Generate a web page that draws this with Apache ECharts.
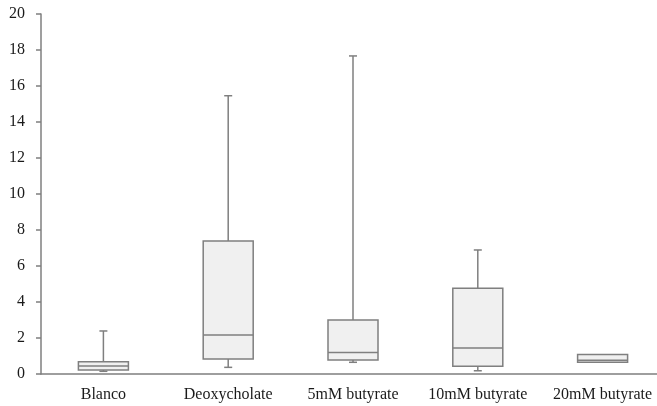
<!DOCTYPE html>
<html><head><meta charset="utf-8">
<script src="https://cdn.jsdelivr.net/npm/echarts@6/dist/echarts.min.js"></script>
<style>html,body{margin:0;padding:0;background:#fff;overflow:hidden}#c{width:670px;height:406px}</style>
</head><body><div id="c"></div>
<script>
const categories = ['Blanco','Deoxycholate','5mM butyrate','10mM butyrate','20mM butyrate'];
const lowWhisker = [0.15, 0.37, 0.65, 0.18, 0.65];
const q1 = [0.22, 0.83, 0.78, 0.43, 0.65];
const median = [0.44, 2.17, 1.20, 1.44, 0.76];
const q3 = [0.68, 7.39, 3.00, 4.76, 1.09];
const highWhisker = [2.39, 15.46, 17.67, 6.89, 1.09];
const yTicks = [0,2,4,6,8,10,12,14,16,18,20];

const data = categories.map((c,i)=>[i, lowWhisker[i], q1[i], median[i], q3[i], highWhisker[i]]);
const chart = echarts.init(document.getElementById('c'), null, {renderer:'canvas'});
const stroke = '#7f7f7f';
chart.setOption({
  animation:false,
  grid:{left:41, top:14, width:624, bottom:32, containLabel:false},
  xAxis:{type:'category', data:categories, boundaryGap:true,
    axisLine:{lineStyle:{color:stroke, width:1.5}}, axisTick:{show:false},
    axisLabel:{color:'#1a1a1a', fontFamily:'Liberation Serif', fontSize:16, margin:13, interval:0}},
  yAxis:{type:'value', min:0, max:20, interval:2,
    axisLine:{show:true, lineStyle:{color:stroke, width:1.5}},
    axisTick:{show:true, inside:false, length:5, lineStyle:{color:stroke, width:1.5}},
    splitLine:{show:false},
    axisLabel:{color:'#1a1a1a', fontFamily:'Liberation Serif', fontSize:16, margin:16,
      formatter:v=>yTicks.includes(v)?String(v):''}},
  series:[{type:'custom', data:data, clip:false,
    renderItem:function(params, api){
      const x = api.value(0);
      const pLo = api.coord([x, api.value(1)]);
      const pQ1 = api.coord([x, api.value(2)]);
      const pMd = api.coord([x, api.value(3)]);
      const pQ3 = api.coord([x, api.value(4)]);
      const pHi = api.coord([x, api.value(5)]);
      const bw = 50;
      const cx = pQ1[0];
      const cap = 8;
      const ls = {stroke:stroke, lineWidth:1.5};
      const ch = [];
      if (api.value(5) > api.value(4)) {
        ch.push({type:'line', shape:{x1:cx,y1:pQ3[1],x2:cx,y2:pHi[1]}, style:ls});
        ch.push({type:'line', shape:{x1:cx-cap/2,y1:pHi[1],x2:cx+cap/2,y2:pHi[1]}, style:ls});
      }
      if (api.value(1) < api.value(2)) {
        ch.push({type:'line', shape:{x1:cx,y1:pQ1[1],x2:cx,y2:pLo[1]}, style:ls});
        ch.push({type:'line', shape:{x1:cx-cap/2,y1:pLo[1],x2:cx+cap/2,y2:pLo[1]}, style:ls});
      }
      ch.push({type:'rect', shape:{x:cx-bw/2, y:pQ3[1], width:bw, height:pQ1[1]-pQ3[1]},
        style:{fill:'#f0f0f0', stroke:stroke, lineWidth:1.5}});
      ch.push({type:'line', shape:{x1:cx-bw/2,y1:pMd[1],x2:cx+bw/2,y2:pMd[1]}, style:ls});
      return {type:'group', children:ch};
    }
  }]
});
</script></body></html>
